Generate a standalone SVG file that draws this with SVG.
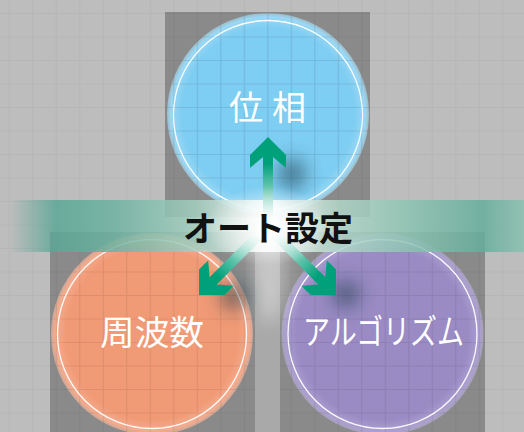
<svg xmlns="http://www.w3.org/2000/svg" width="524" height="432" viewBox="0 0 524 432">
<defs>
<style>
.lbl{font-family:"Noto Sans CJK JP","Noto Sans",sans-serif;fill:#fff;font-size:34px}
.title{font-family:"Noto Sans CJK JP","Noto Sans",sans-serif;fill:#111;font-size:34px;font-weight:700}
.ring{fill:none;stroke:#fff;stroke-width:1.3;opacity:0.95}
.sq{fill:#8a8a8a}
</style>
<pattern id="grid" width="23.5" height="23.5" x="8.75" y="13" patternUnits="userSpaceOnUse">
<path d="M0 0.5H23.5M0.5 0V23.5" stroke="#000" stroke-width="1.2" fill="none"/>
</pattern>
<radialGradient id="gBlue" cx="0.5" cy="0.5" r="0.5">
<stop offset="0.85" stop-color="#7ecdf2"/>
<stop offset="0.96" stop-color="#9ad8f5"/>
<stop offset="1" stop-color="#a8def6" stop-opacity="0.6"/>
</radialGradient>
<radialGradient id="gSalmon" cx="0.5" cy="0.5" r="0.5">
<stop offset="0.85" stop-color="#f19a76"/>
<stop offset="0.96" stop-color="#f4ab8d"/>
<stop offset="1" stop-color="#f6b89e" stop-opacity="0.6"/>
</radialGradient>
<radialGradient id="gPurple" cx="0.5" cy="0.5" r="0.5">
<stop offset="0.85" stop-color="#9a8bc4"/>
<stop offset="0.96" stop-color="#ab9fd0"/>
<stop offset="1" stop-color="#b8aed8" stop-opacity="0.6"/>
</radialGradient>
<linearGradient id="band" x1="10" y1="0" x2="524" y2="0" gradientUnits="userSpaceOnUse">
<stop offset="0" stop-color="#5aa896" stop-opacity="0"/>
<stop offset="0.09" stop-color="#5aa896" stop-opacity="0.85"/>
<stop offset="0.2" stop-color="#6db2a1" stop-opacity="0.85"/>
<stop offset="0.36" stop-color="#a3cfbf" stop-opacity="0.85"/>
<stop offset="0.5" stop-color="#ffffff" stop-opacity="0.9"/>
<stop offset="0.64" stop-color="#b2d7c9" stop-opacity="0.85"/>
<stop offset="0.8" stop-color="#86c0ae" stop-opacity="0.85"/>
<stop offset="0.92" stop-color="#66ae9c" stop-opacity="0.85"/>
<stop offset="1" stop-color="#8cc2b2" stop-opacity="0.85"/>
</linearGradient>
<radialGradient id="glow" cx="0.5" cy="0.5" r="0.5">
<stop offset="0" stop-color="#fff" stop-opacity="0.95"/>
<stop offset="0.5" stop-color="#fff" stop-opacity="0.45"/>
<stop offset="1" stop-color="#fff" stop-opacity="0"/>
</radialGradient>
<linearGradient id="arrowFill" x1="0" y1="0" x2="0" y2="1">
<stop offset="0" stop-color="#00a07a"/>
<stop offset="0.3" stop-color="#00a07a"/>
<stop offset="1" stop-color="#ffffff"/>
</linearGradient>
<filter id="blur" x="-1" y="-1" width="3" height="3"><feGaussianBlur stdDeviation="9"/></filter>
<path id="arrow" d="M0 0L18 18L18 31L5 20L5 88L-5 88L-5 20L-18 31L-18 18Z"/>
<clipPath id="cTop"><circle cx="268" cy="114" r="101"/></clipPath>
<clipPath id="cLeft"><circle cx="152" cy="334" r="101"/></clipPath>
<clipPath id="cRight"><circle cx="382.5" cy="334" r="101"/></clipPath>
</defs>

<rect width="524" height="432" fill="#bdbdbd"/>
<rect width="524" height="432" fill="url(#grid)" opacity="0.035"/>
<rect x="255" y="252" width="25" height="180" fill="#a9a9a9"/>

<g id="node-phase">
<rect class="sq" x="165" y="12" width="205" height="205"/>
<rect x="165" y="12" width="205" height="205" fill="url(#grid)" opacity="0.05"/>
<circle cx="268" cy="114" r="101" fill="url(#gBlue)"/>
<rect x="165" y="12" width="205" height="205" fill="url(#grid)" opacity="0.1" clip-path="url(#cTop)"/>
<circle class="ring" cx="268" cy="115" r="94.5"/>
<text class="lbl" x="229" y="120" letter-spacing="9">位相</text>
</g>

<g id="node-frequency">
<rect class="sq" x="50" y="232" width="205" height="205"/>
<rect x="50" y="232" width="205" height="205" fill="url(#grid)" opacity="0.05"/>
<circle cx="152" cy="334" r="101" fill="url(#gSalmon)"/>
<rect x="50" y="232" width="205" height="205" fill="url(#grid)" opacity="0.08" clip-path="url(#cLeft)"/>
<circle class="ring" cx="152" cy="334" r="94.5"/>
<text class="lbl" x="100" y="345" font-size="35" textLength="104" lengthAdjust="spacingAndGlyphs">周波数</text>
</g>

<g id="node-algorithm">
<rect class="sq" x="280" y="232" width="205" height="205"/>
<rect x="280" y="232" width="205" height="205" fill="url(#grid)" opacity="0.05"/>
<circle cx="382.5" cy="334" r="101" fill="url(#gPurple)"/>
<rect x="280" y="232" width="205" height="205" fill="url(#grid)" opacity="0.08" clip-path="url(#cRight)"/>
<circle class="ring" cx="382.5" cy="334" r="94.5"/>
<text class="lbl" x="303" y="344" font-size="31" textLength="161" lengthAdjust="spacingAndGlyphs">アルゴリズム</text>
</g>

<g id="center-auto">
<rect x="10" y="200" width="514" height="52" fill="url(#band)"/>
<ellipse cx="270" cy="262" rx="18" ry="60" fill="#fff" opacity="0.35" filter="url(#blur)"/>
</g>

<g id="connectors">
<g fill="#1a3a4a" opacity="0.55" filter="url(#blur)">
<ellipse cx="292" cy="174" rx="14" ry="16"/>
<ellipse cx="234" cy="296" rx="14" ry="14"/>
<ellipse cx="346" cy="294" rx="14" ry="14"/>
</g>
<use href="#arrow" transform="translate(268,137)" fill="url(#arrowFill)"/>
<use href="#arrow" transform="translate(199,295) rotate(-135)" fill="url(#arrowFill)"/>
<use href="#arrow" transform="translate(336,295) rotate(135)" fill="url(#arrowFill)"/>
</g>

<g id="center-label">
<ellipse cx="268" cy="226" rx="62" ry="40" fill="url(#glow)"/>
<text class="title" x="268" y="241" text-anchor="middle">オート設定</text>
</g>
</svg>
